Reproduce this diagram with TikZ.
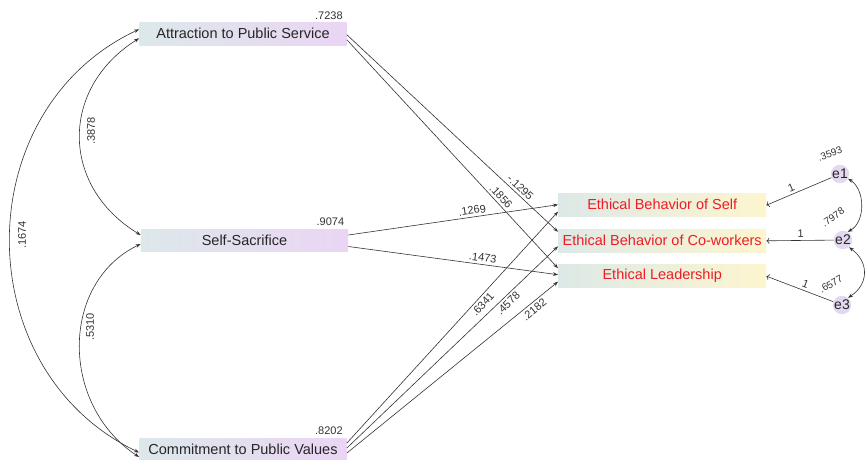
\documentclass[tikz,border=0pt]{standalone}
\usepackage{fontspec}
\setmainfont{Liberation Sans}
\usetikzlibrary{arrows.meta}

\definecolor{exoL}{HTML}{DDE8EA}
\definecolor{exoR}{HTML}{EAD5F4}
\definecolor{endL}{HTML}{DDE9E7}
\definecolor{endR}{HTML}{FDF5CF}
\definecolor{errfill}{HTML}{E3D8F0}
\definecolor{ink}{HTML}{333333}
\definecolor{redtext}{HTML}{EE1C24}

\tikzset{
  exo/.style={left color=exoL, right color=exoR, draw=none,
    minimum width=207.4pt, minimum height=22.4pt, inner sep=0pt,
    font=\fontsize{14.5}{16}\selectfont, text=black!85},
  endo/.style={left color=endL, right color=endR, draw=none,
    minimum width=208pt, minimum height=22.7pt, inner sep=0pt,
    font=\fontsize{14.5}{16}\selectfont, text=redtext},
  errnode/.style={circle, fill=errfill, draw=none, minimum size=18pt,
    inner sep=0pt, font=\fontsize{14}{16}\selectfont, text=black!85},
  regpath/.style={draw=ink, line width=0.6pt, -{Stealth[length=5pt,width=3.6pt]}},
  covpath/.style={draw=ink, line width=0.6pt,
    {Stealth[length=5pt,width=3.6pt]}-{Stealth[length=5pt,width=3.6pt]}},
  coef/.style={font=\fontsize{11}{12}\selectfont, text=ink, inner sep=2.5pt},
  varlbl/.style={font=\fontsize{11}{12}\selectfont, text=ink, inner sep=0pt},
  small/.style={font=\fontsize{10}{11}\selectfont, text=ink, inner sep=0pt}
}

\begin{document}
\begin{tikzpicture}[x=1pt, y=-1pt]
\useasboundingbox (0,0) rectangle (867,459);
\fill[white] (0,0) rectangle (867,459);

% exogenous variables
\node[exo] (A) at (243,33.8) {Attraction to Public Service};
\node[exo] (S) at (244.5,240.5) {Self-Sacrifice};
\node[exo] (C) at (243,449.5) {Commitment to Public Values};

% their variances
\node[varlbl, anchor=south east] (vA) at ([shift={(-4,-3)}]A.north east) {.7238};
\node[varlbl, anchor=south east] (vS) at ([shift={(-4,-3)}]S.north east) {.9074};
\node[varlbl, anchor=south east] (vC) at ([shift={(-4,-3)}]C.north east) {.8202};

% endogenous variables
\node[endo] (EBS) at (662.2,204.7) {Ethical Behavior of Self};
\node[endo] (EBC) at (662.2,240.8) {Ethical Behavior of Co-workers};
\node[endo] (EL)  at (662.2,276.2) {Ethical Leadership};

% error terms
\node[errnode] (e1) at (840,174) {e1};
\node[errnode] (e2) at (843,240) {e2};
\node[errnode] (e3) at (842,305) {e3};

\node[small, rotate=20] (ve1) at ([shift={(-10,-20)}]e1.center) {.3593};
\node[small, rotate=35] (ve2) at ([shift={(-10,-23)}]e2.center) {.7978};
\node[small, rotate=30] (ve3) at ([shift={(-11,-21)}]e3.center) {.6577};

% covariances among exogenous variables
\draw[covpath] ([yshift=4.5]A.west) .. controls (-33,110) and (-33,370) .. ([yshift=-3]C.west);
\node[coef, rotate=90] (l13) at (22,235) {.1674};
\draw[covpath] ([yshift=-4.5]A.west) .. controls (60,88) and (60,186) .. ([yshift=5.5]S.west);
\node[coef, rotate=90] (l12) at (91,131) {.3878};
\draw[covpath] ([yshift=-3.5]S.west) .. controls (60,283) and (60,405) .. ([yshift=-7.5]C.west);
\node[coef, rotate=90] (l23) at (90,327) {.5310};

% structural paths
\draw[regpath] ([yshift=-1]A.east) -- node[coef, sloped, above, pos=0.80] {-.1295} ([yshift=9]EBC.west);
\draw[regpath] ([yshift=-6]A.east) -- node[coef, sloped, above, pos=0.707] {.1856} ([yshift=8]EL.west);
\draw[regpath] ([yshift=5.5]S.east) -- node[coef, sloped, above, pos=0.595] {.1269} (EBS.west);
\draw[regpath] ([yshift=-6]S.east) -- node[coef, sloped, above, pos=0.637] {.1473} ([yshift=1.5]EL.west);
\draw[regpath] ([yshift=6.5]C.east) -- node[coef, sloped, below, pos=0.62] {.6341} ([yshift=-7]EBS.west);
\draw[regpath] ([yshift=1.5]C.east) -- node[coef, sloped, below, pos=0.742] {.4578} ([yshift=-5.5]EBC.west);
\draw[regpath] ([yshift=-3.5]C.east) -- node[coef, sloped, below, pos=0.868] {.2182} ([yshift=-5.5]EL.west);

% error paths
\draw[regpath, <-] ([yshift=-0.5]EBS.east) -- node[coef, sloped, above, pos=0.42] {1} (e1);
\draw[regpath, <-] (EBC.east) -- node[coef, sloped, above, pos=0.51] {1} (e2);
\draw[regpath, <-] (EL.east) -- node[coef, sloped, above, pos=0.55] {1} (e3);

% error covariances
\draw[covpath] (e1.-30) .. controls (865.5,190) and (865.5,222) .. (e2.60);
\draw[covpath] (e2.-50) .. controls (869,262) and (869,284) .. (e3.50);
\end{tikzpicture}
\end{document}
